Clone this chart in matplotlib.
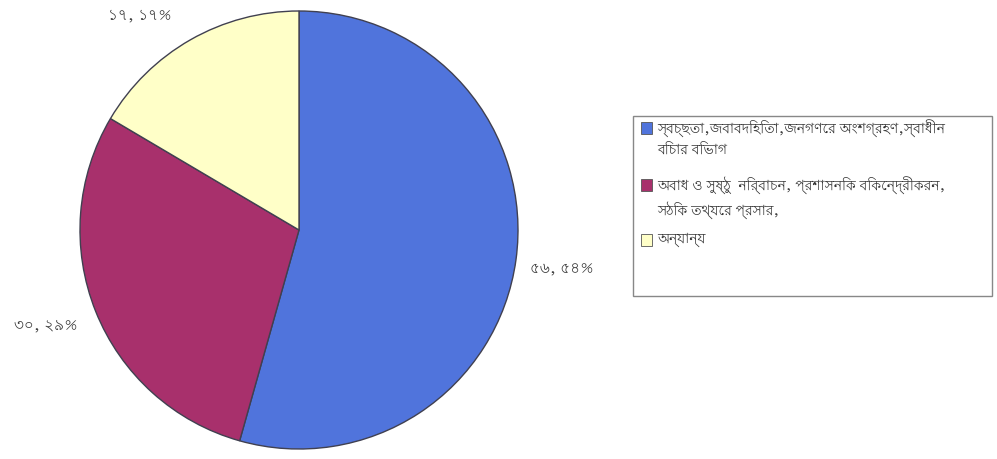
import matplotlib
matplotlib.use("Agg")
import matplotlib.pyplot as plt
from matplotlib import font_manager
from matplotlib.ft2font import FT2Font
from matplotlib.patches import Rectangle

# data
categories = [
    "স্বচ্ছতা,জবাবদিহিতা,জনগণের অংশগ্রহণ,স্বাধীন\nবিচার বিভাগ",
    "অবাধ ও সুষ্ঠু  নির্বাচন, প্রশাসনিক বিকেন্দ্রীকরন,\nসঠিক তথ্যের প্রসার,",
    "অন্যান্য",
]
counts = [56, 30, 17]
value_labels = ["৫৬, ৫৪%", "৩০, ২৯%", "১৭, ১৭%"]
colors = ["#5074dc", "#a8306c", "#ffffc8"]


def bengali_fonts():
    names = []
    for f in font_manager.fontManager.ttflist:
        try:
            cmap = FT2Font(f.fname).get_charmap()
        except Exception:
            continue
        if 0x0995 in cmap and f.name not in names:
            names.append(f.name)
    # proportional faces first, monospaced ones last
    names.sort(key=lambda n: ("mono" in n.lower(), "bengali" not in n.lower()))
    return names


plt.rcParams["font.family"] = bengali_fonts() + ["DejaVu Sans"]

W, H = 997, 459
fig = plt.figure(figsize=(W / 100, H / 100), dpi=100)

# pie axes: centre (299, 230) px, radius 219 px
cx, cy, r = 299, 230, 219
ax = fig.add_axes([(cx - r) / W, (H - cy - r) / H, 2 * r / W, 2 * r / H])
ax.pie(counts, colors=colors, startangle=90, counterclock=False, radius=1,
       wedgeprops=dict(edgecolor="#404050", linewidth=1.0))
ax.set_xlim(-1, 1)
ax.set_ylim(-1, 1)
ax.axis("off")

# value labels
label_pos = [(562, 270), (46, 326), (140, 16)]
for (px, py), txt in zip(label_pos, value_labels):
    fig.text(px / W, 1 - py / H, txt, ha="center", va="center",
             fontsize=11, color="#3a3a3a")

# legend box with swatches aligned to the first line of each entry
fig.patches.append(Rectangle((633 / W, 1 - 296 / H), (992 - 633) / W, (296 - 116) / H,
                             transform=fig.transFigure, facecolor="white",
                             edgecolor="#888888", linewidth=1.0))
entry_y = [128, 185, 240]
for ypx, c, lab in zip(entry_y, colors, categories):
    fig.patches.append(Rectangle((641 / W, 1 - (ypx + 6) / H), 11 / W, 12 / H,
                                 transform=fig.transFigure, facecolor=c,
                                 edgecolor="#555555", linewidth=0.6))
    fig.text(657 / W, 1 - (ypx - 8) / H, lab, ha="left", va="top",
             fontsize=10, fontweight="bold", color="#333333", linespacing=1.45)

fig.savefig("out.png", dpi=100)
